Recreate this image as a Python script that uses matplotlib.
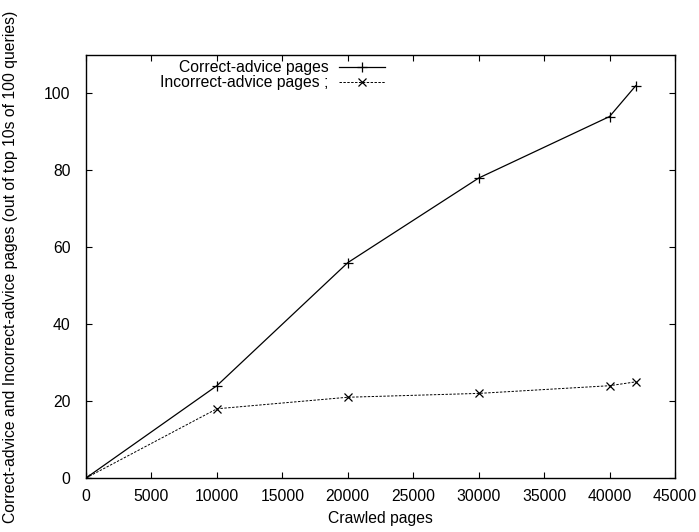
import matplotlib
matplotlib.use("Agg")
import matplotlib.pyplot as plt

plt.rcParams['font.family'] = ['Liberation Sans', 'DejaVu Sans']

crawled = [0, 10000, 20000, 30000, 40000, 42000]
correct = [0, 24, 56, 78, 94, 102]
incorrect = [0, 18, 21, 22, 24, 25]
xticks = [0, 5000, 10000, 15000, 20000, 25000, 30000, 35000, 40000, 45000]
yticks = [0, 20, 40, 60, 80, 100]

FS = 11.3

fig = plt.figure(figsize=(6.99, 5.32), dpi=100)
ax = fig.add_axes([86/699, 1-478/532, (675-86)/699, (478-55)/532])

ax.plot(crawled, correct, color='black', lw=0.9, marker='+', ms=7, mew=0.9,
        label='Correct-advice pages')
ax.plot(crawled, incorrect, color='black', lw=0.7, ls=(0, (2.5, 1.5)), marker='x', ms=6, mew=0.9,
        label='Incorrect-advice pages ;')

ax.set_xlim(0, 45000)
ax.set_ylim(0, 110)
ax.set_xticks(xticks)
ax.set_xticklabels([str(t) for t in xticks])
ax.set_yticks(yticks)
ax.tick_params(direction='in', top=True, right=True, length=4, width=0.8, labelsize=FS)
ax.tick_params(axis='y', pad=11)
ax.tick_params(axis='x', pad=8)
for s in ax.spines.values():
    s.set_linewidth(1.0)

ax.set_xlabel('Crawled pages', fontsize=FS, labelpad=5)
ax.set_ylabel('Correct-advice and Incorrect-advice pages (out of top 10s of 100 queries)', fontsize=FS)
ax.yaxis.set_label_coords(-(86-18)/589, 0.5)

leg = ax.legend(loc='upper right', bbox_to_anchor=((385-86)/589, (478-60)/423), frameon=False,
                markerfirst=False, fontsize=FS, handlelength=2.9, handletextpad=0.7,
                labelspacing=0.0, borderaxespad=0, borderpad=0)

fig.savefig('out.png', dpi=100)
